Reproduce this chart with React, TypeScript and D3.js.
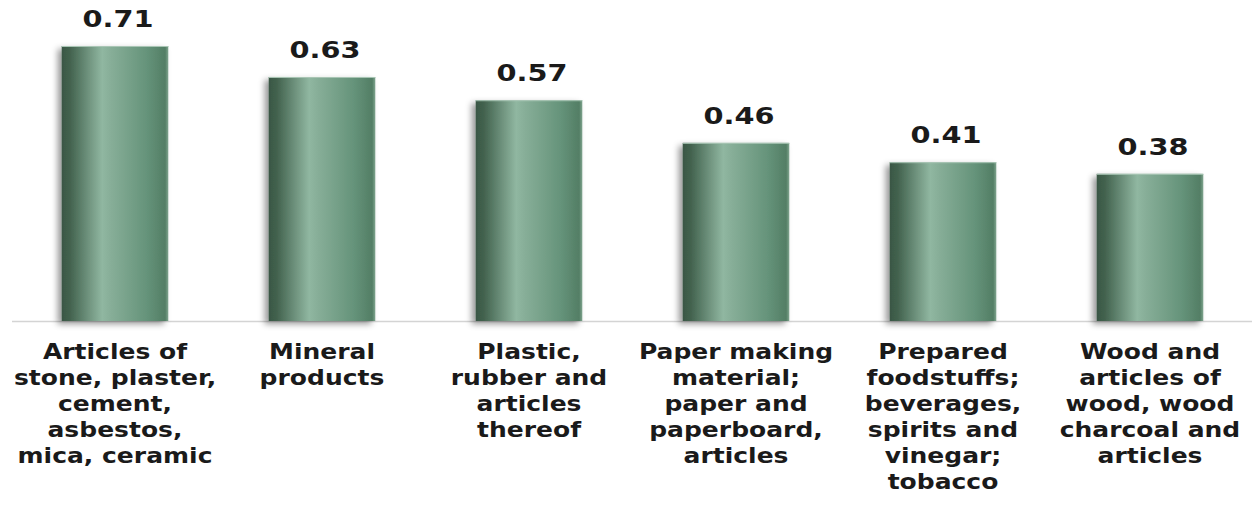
import React, { useEffect, useRef } from "react";
import * as d3 from "d3";

const categories: string[] = [
  "Articles of\nstone, plaster,\ncement,\nasbestos,\nmica, ceramic",
  "Mineral\nproducts",
  "Plastic,\nrubber and\narticles\nthereof",
  "Paper making\nmaterial;\npaper and\npaperboard,\narticles",
  "Prepared\nfoodstuffs;\nbeverages,\nspirits and\nvinegar;\ntobacco",
  "Wood and\narticles of\nwood, wood\ncharcoal and\narticles",
];
const values: number[] = [0.71, 0.63, 0.57, 0.46, 0.41, 0.38];

const W = 1252;
const H = 505;

export default function App() {
  const ref = useRef<SVGSVGElement | null>(null);

  useEffect(() => {
    const svg = d3.select(ref.current);
    svg.selectAll("*").remove();

    const baseY = 321;
    const x = d3
      .scaleBand<number>()
      .domain(d3.range(categories.length))
      .range([11.5, 1253.5])
      .paddingInner(0.485)
      .paddingOuter(0.2425);
    const y = d3.scaleLinear().domain([0, 0.71]).range([baseY, 46]);

    const defs = svg.append("defs");
    const grad = defs
      .append("linearGradient")
      .attr("id", "barGrad")
      .attr("x1", "0")
      .attr("x2", "1")
      .attr("y1", "0")
      .attr("y2", "0");
    [
      [0, "#395644"],
      [0.08, "#43634f"],
      [0.38, "#90b7a1"],
      [0.46, "#87ae98"],
      [0.8, "#65937a"],
      [0.97, "#537e65"],
      [1, "#7fa58f"],
    ].forEach(([o, c]) =>
      grad.append("stop").attr("offset", o as number).attr("stop-color", c as string)
    );

    const shadow = defs
      .append("filter")
      .attr("id", "barShadow")
      .attr("x", "-30%")
      .attr("y", "-10%")
      .attr("width", "160%")
      .attr("height", "130%");
    shadow
      .append("feDropShadow")
      .attr("dx", -4)
      .attr("dy", 3)
      .attr("stdDeviation", 3)
      .attr("flood-color", "#000")
      .attr("flood-opacity", 0.4);

    svg
      .append("rect")
      .attr("width", W)
      .attr("height", H)
      .attr("fill", "#ffffff");

    // baseline
    svg
      .append("line")
      .attr("x1", 12)
      .attr("x2", W)
      .attr("y1", baseY + 0.5)
      .attr("y2", baseY + 0.5)
      .attr("stroke", "#d4d4d4")
      .attr("stroke-width", 1.5);

    const g = svg.append("g");

    g.selectAll("rect.bar")
      .data(values)
      .join("rect")
      .attr("class", "bar")
      .attr("x", (_, i) => x(i)!)
      .attr("y", (d) => y(d))
      .attr("width", x.bandwidth())
      .attr("height", (d) => baseY - y(d))
      .attr("fill", "url(#barGrad)")
      .attr("filter", "url(#barShadow)");

    // thin highlight along the top edge
    g.selectAll("line.top")
      .data(values)
      .join("line")
      .attr("class", "top")
      .attr("x1", (_, i) => x(i)!)
      .attr("x2", (_, i) => x(i)! + x.bandwidth())
      .attr("y1", (d) => y(d) + 0.5)
      .attr("y2", (d) => y(d) + 0.5)
      .attr("stroke", "#a9c6b5")
      .attr("stroke-width", 1);

    const font = "'DejaVu Sans', Verdana, sans-serif";

    // value labels
    g.selectAll("text.val")
      .data(values)
      .join("text")
      .attr("class", "val")
      .attr(
        "transform",
        (d, i) => `translate(${x(i)! + x.bandwidth() / 2 + 3},${y(d) - 19}) scale(1.25,1)`
      )
      .attr("text-anchor", "middle")
      .attr("font-family", font)
      .attr("font-weight", "bold")
      .attr("font-size", 23)
      .attr("fill", "#1a1a1a")
      .text((d) => d.toFixed(2));

    // category labels
    const lab = g
      .selectAll("g.cat")
      .data(categories)
      .join("g")
      .attr("class", "cat")
      .attr(
        "transform",
        (_, i) => `translate(${x(i)! + x.bandwidth() / 2},0) scale(1.22,1)`
      );
    lab
      .selectAll("text")
      .data((d) => d.split("\n"))
      .join("text")
      .attr("x", 0)
      .attr("y", (_, j) => 359 + j * 26)
      .attr("text-anchor", "middle")
      .attr("font-family", font)
      .attr("font-weight", "bold")
      .attr("font-size", 20.5)
      .attr("fill", "#1a1a1a")
      .text((d) => d);
  }, []);

  return (
    <svg
      ref={ref}
      width={W}
      height={H}
      style={{ position: "absolute", left: 0, top: 0, display: "block" }}
    />
  );
}
